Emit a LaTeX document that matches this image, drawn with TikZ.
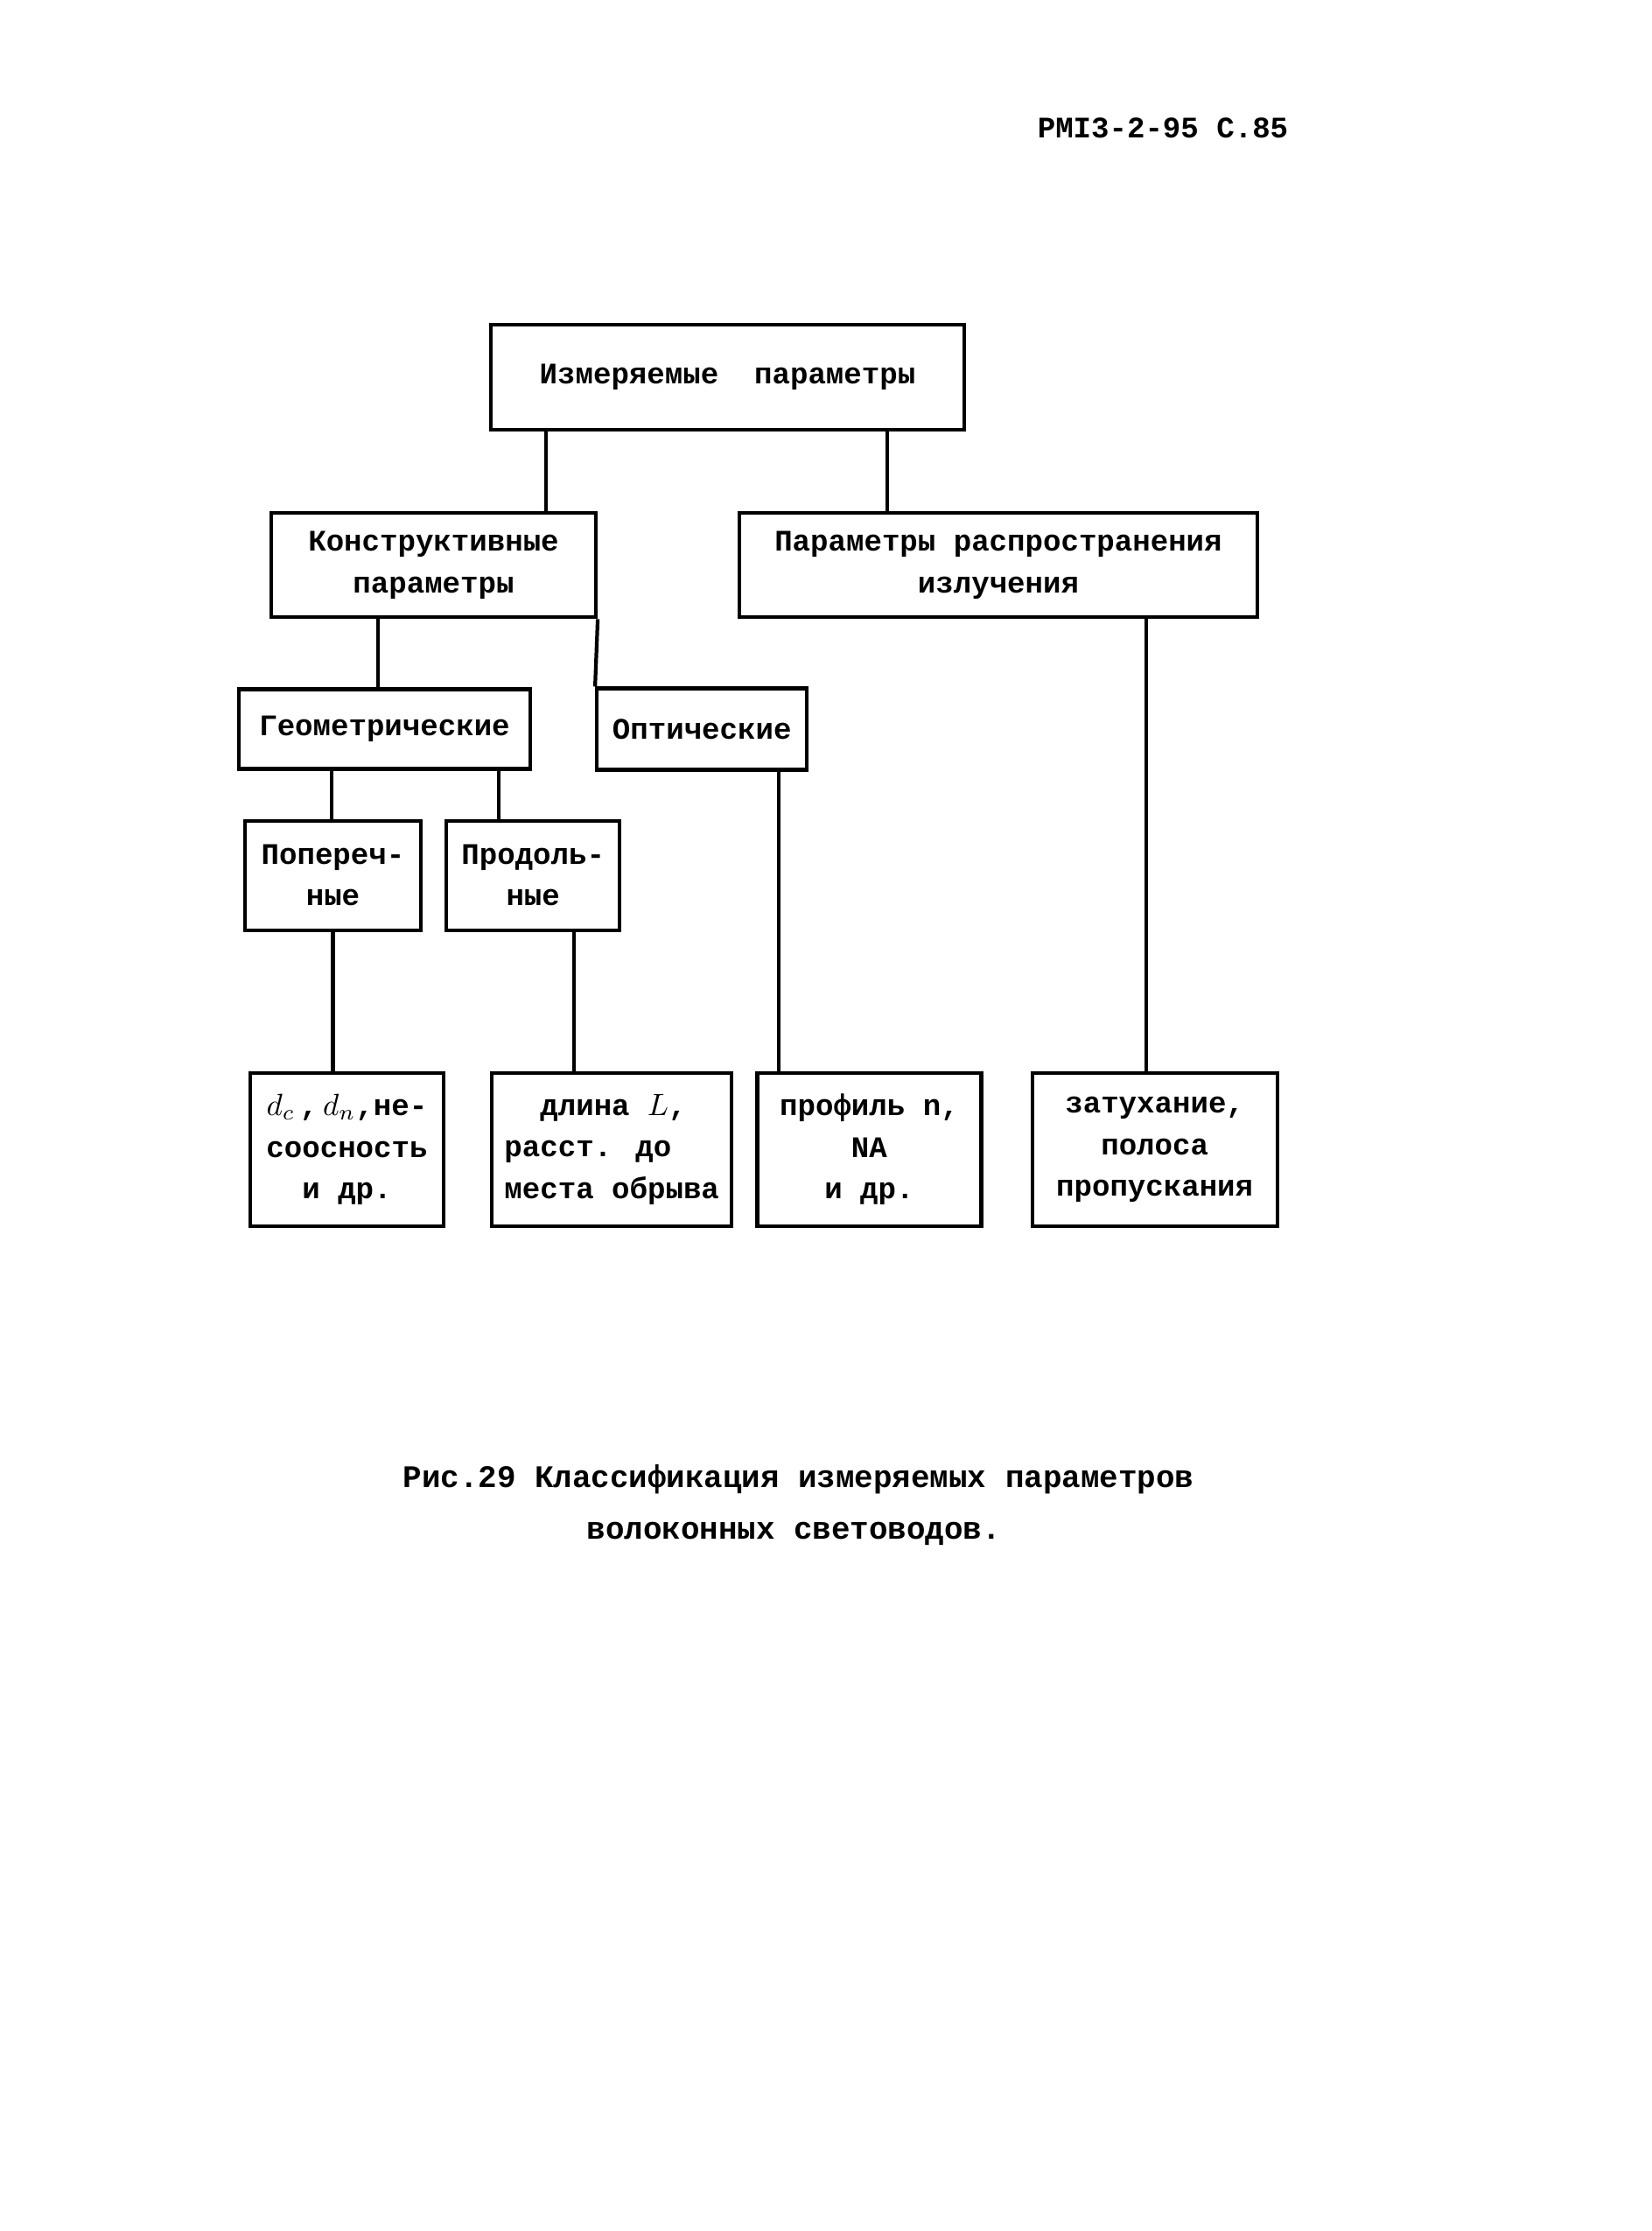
\documentclass[tikz,border=0pt]{standalone}
\usepackage{fontspec}
\setmainfont{Liberation Mono}
\usepackage{tikz}
\usetikzlibrary{positioning}
\newcommand{\boxfont}{\fontsize{9.7}{13.5}\selectfont\bfseries}
\newcommand{\capfont}{\fontsize{10.2}{16.8}\selectfont\bfseries}

\begin{document}
\begin{tikzpicture}[
box/.style={rectangle, draw, line width=1.2pt, align=center, inner sep=2pt, font=\boxfont},
link/.style={line width=1.2pt}
]
\useasboundingbox (0,0) rectangle (18.87,-25.49);

\node (page) [font=\boxfont] at (13.29,-1.46) {РМI3-2-95 С.85};

\node (top) [box, minimum width=5.41cm, minimum height=1.2cm] at (8.315,-4.31) {Измеряемые~~параметры};
\node (konstr) [box, minimum width=3.71cm, minimum height=1.19cm, below=0.91cm of top, xshift=-3.36cm] {Конструктивные\\параметры};
\node (rasp) [box, minimum width=5.92cm, minimum height=1.19cm, below=0.91cm of top, xshift=3.095cm] {Параметры распространения\\излучения};
\node (geom) [box, minimum width=3.33cm, minimum height=0.91cm, below=0.78cm of konstr, xshift=-0.56cm] {Геометрические};
\node (opt) [box, minimum width=2.4cm, minimum height=0.93cm, right=0.72cm of geom] {Оптические};
\node (poper) [box, minimum width=2.01cm, minimum height=1.25cm, below=0.55cm of geom, xshift=-0.59cm] {Попереч-\\ные};
\node (prod) [box, minimum width=1.98cm, minimum height=1.25cm, right=0.25cm of poper] {Продоль-\\ные};
\node (diam) [box, minimum width=2.21cm, minimum height=1.75cm, below=1.59cm of poper, xshift=0.16cm] {$d_c$\,,\,$d_n$,не-\\соосность\\и др.};
\node (len) [box, align=left, minimum width=2.74cm, minimum height=1.75cm, right=0.51cm of diam] {\hspace*{1.2em}длина $L$,\\расст. до\\места обрыва};
\node (prof) [box, minimum width=2.56cm, minimum height=1.75cm, right=0.25cm of len] {профиль n,\\NA\\и др.};
\node (atten) [box, minimum width=2.8cm, minimum height=1.75cm, right=0.54cm of prof] {затухание,\\полоса\\пропускания};

\draw [link] ([xshift=-2.075cm]top.south) -- ([xshift=-2.075cm]top.south |- konstr.north);
\draw [link] ([xshift=1.825cm]top.south) -- ([xshift=1.825cm]top.south |- rasp.north);
\draw [link] ([xshift=-0.635cm]konstr.south) -- ([xshift=-0.635cm]konstr.south |- geom.north);
\draw [link] (konstr.south east) -- (opt.north west);
\draw [link] ([xshift=-0.605cm]geom.south) -- ([xshift=-0.605cm]geom.south |- poper.north);
\draw [link] ([xshift=1.305cm]geom.south) -- ([xshift=1.305cm]geom.south |- prod.north);
\draw [link] (poper.south) -- (poper.south |- diam.north);
\draw [link] ([xshift=0.47cm]prod.south) -- ([xshift=0.47cm]prod.south |- len.north);
\draw [link] ([xshift=0.88cm]opt.south) -- ([xshift=0.88cm]opt.south |- prof.north);
\draw [link] ([xshift=1.69cm]rasp.south) -- ([xshift=1.69cm]rasp.south |- atten.north);

\node (caption) [align=left, anchor=west, inner sep=0pt, font=\capfont] at (4.6,-17.2) {Рис.29 Классификация измеряемых параметров\\\hspace*{2.1cm}волоконных световодов.};

\end{tikzpicture}
\end{document}
